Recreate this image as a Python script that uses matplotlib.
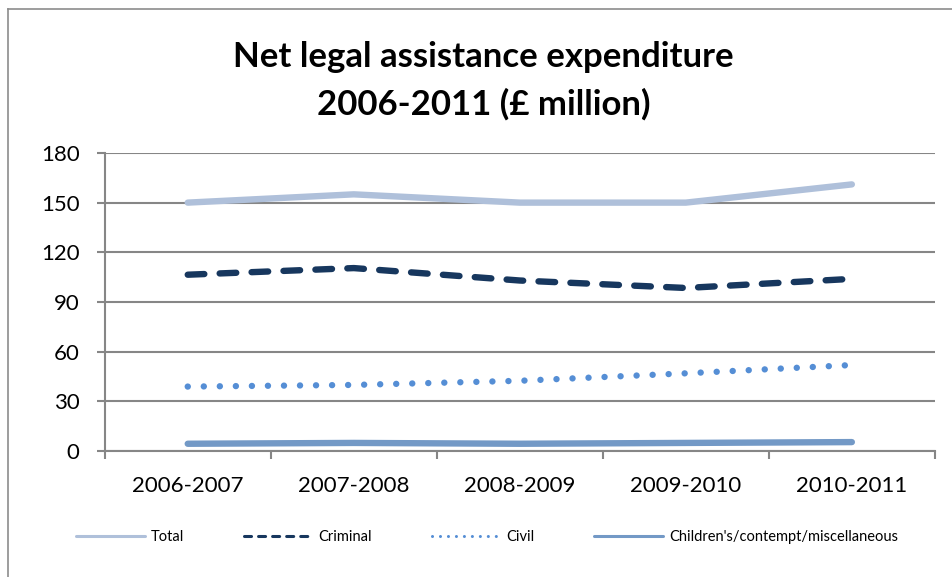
import matplotlib
matplotlib.use("Agg")
import matplotlib.pyplot as plt
from matplotlib.lines import Line2D
import numpy as np

years = ["2006-2007", "2007-2008", "2008-2009", "2009-2010", "2010-2011"]
total = [150, 155, 150, 150, 161]
criminal = [106.5, 110.5, 103, 98.5, 104]
civil = [39, 40, 42.5, 47, 52]
childrens = [4.5, 5, 4.5, 5, 5.5]

series_names = ["Total", "Criminal", "Civil", "Children's/contempt/miscellaneous"]
yticks = [0, 30, 60, 90, 120, 150, 180]

plt.rcParams["font.family"] = ["Lato", "DejaVu Sans"]

fig = plt.figure(figsize=(9.52, 5.77), dpi=100)
fig.patch.set_facecolor("white")

# chart frame: only left and top edges fall inside the image
fig.add_artist(Line2D([8 / 952, 8 / 952], [0, 1 - 9 / 577], transform=fig.transFigure,
                      color="#8c8c8c", lw=1.2))
fig.add_artist(Line2D([8 / 952, 1], [1 - 9 / 577, 1 - 9 / 577], transform=fig.transFigure,
                      color="#8c8c8c", lw=1.2))

ax = fig.add_axes([0.110, 0.218, 0.872, 0.517])
x = np.arange(len(years))

colors = ["#AFC0DA", "#17375E", "#558ED5", "#7399C6"]
lw = 4.6
ax.plot(x, total, color=colors[0], lw=lw, solid_capstyle="round",
        solid_joinstyle="round", zorder=3)
ax.plot(x, criminal, color=colors[1], lw=lw, dash_capstyle="round",
        linestyle=(0, (2.6, 2.4)), zorder=3)
ax.plot(x, civil, color=colors[2], lw=lw, dash_capstyle="round",
        linestyle=(0, (0.01, 2.5)), zorder=3)
ax.plot(x, childrens, color=colors[3], lw=lw, solid_capstyle="round", zorder=3)

ax.set_xlim(-0.5, len(years) - 0.5)
ax.set_ylim(0, 180)
ax.set_yticks(yticks)
ax.set_yticklabels([str(v) for v in yticks], fontsize=16)
ax.set_xticks(x)
ax.set_xticklabels(years, fontsize=16)
ax.set_xticks(np.arange(-0.5, len(years)), minor=True)
ax.tick_params(axis="x", which="major", length=0, pad=18)
ax.tick_params(axis="x", which="minor", length=6, color="#868686", width=1.5, direction="out")
ax.tick_params(axis="y", length=6, color="#868686", width=1.5, pad=12)

ax.grid(axis="y", color="#868686", linewidth=1.5, zorder=0)
for side in ["top", "right"]:
    ax.spines[side].set_visible(False)
for side in ["left", "bottom"]:
    ax.spines[side].set_color("#868686")
    ax.spines[side].set_linewidth(1.5)

fig.text(0.508, 0.860, "Net legal assistance expenditure\n2006-2011 (£ million)",
         ha="center", va="center", fontsize=25, fontweight="bold", linespacing=1.57)

# legend keys are drawn thinner than the data lines
hlw = 2.2
handles = [
    Line2D([], [], color=colors[0], lw=hlw, solid_capstyle="round"),
    Line2D([], [], color=colors[1], lw=hlw, dash_capstyle="round", linestyle=(0, (2.3, 2.3))),
    Line2D([], [], color=colors[2], lw=hlw, dash_capstyle="round", linestyle=(0, (0.01, 2.6))),
    Line2D([], [], color=colors[3], lw=hlw, solid_capstyle="round"),
]
fig.legend(handles, series_names, loc="center left", bbox_to_anchor=(76 / 952, 1 - 537 / 577),
           ncol=4, frameon=False, fontsize=10.5, handlelength=4.7, columnspacing=4.1,
           handletextpad=0.42, borderpad=0, borderaxespad=0)

fig.savefig("out.png", dpi=100, facecolor="white")
